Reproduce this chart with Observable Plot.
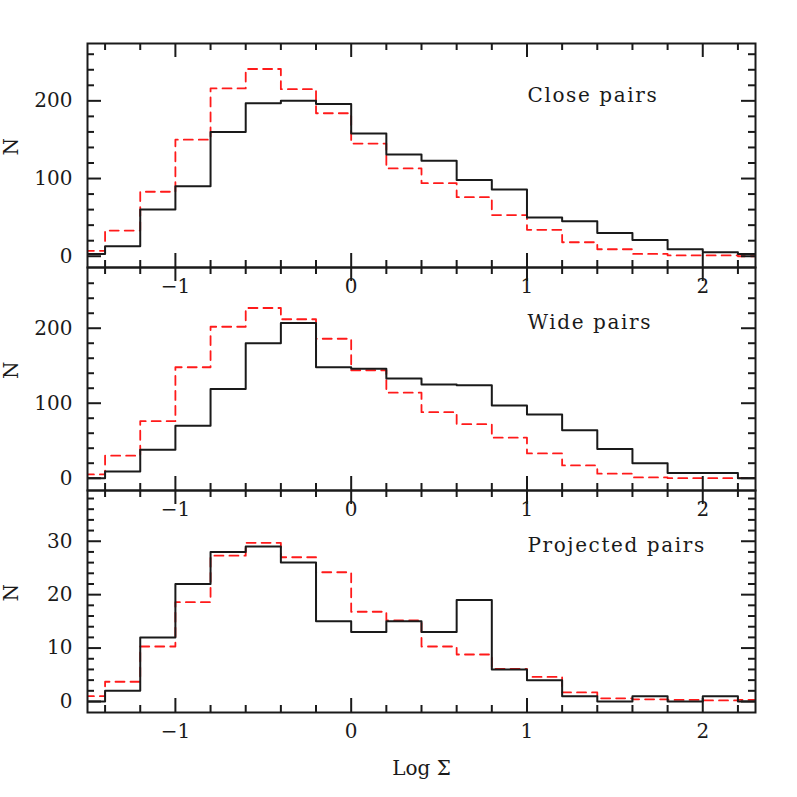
<!DOCTYPE html>
<html><head><meta charset="utf-8">
<script src="https://cdn.jsdelivr.net/npm/d3@7"></script>
<script src="https://cdn.jsdelivr.net/npm/@observablehq/plot@0.6"></script>
<style>
body{margin:0;background:#fff;}
#wrap{position:relative;width:797px;height:797px;background:#fff;overflow:hidden;}
#wrap svg{position:absolute;left:0;}
</style></head><body><div id="wrap"></div>
<script>
// Bin lower edges (bin width 0.2); the last bin ends at 2.4
const binStart = [-1.6,-1.4,-1.2,-1.0,-0.8,-0.6,-0.4,-0.2,0,0.2,0.4,0.6,0.8,1.0,1.2,1.4,1.6,1.8,2.0,2.2];
const binEnd = 2.4;

// Close pairs
const closeObs   = [3,13,60,90,160,197,200,196,158,131,123,98,86,50,45,30,21,9,5,3];
const closeModel = [7,33,83,150,216,241,215,184,145,113,94,76,53,34,18,9,3,1,1,0];
// Wide pairs
const wideObs    = [0,9,38,70,119,180,207,148,146,133,125,124,97,85,64,39,20,7,7,0];
const wideModel  = [5,30,76,148,202,227,212,186,144,114,88,72,54,33,17,6,1,0,0,0];
// Projected pairs
const projObs    = [0,2,12,22,28,29,26,15,13,15,13,19,6,4,1,0,1,0,1,0];
const projModel  = [1,3.7,10.3,18.6,27.3,29.7,27,24.2,16.8,15.2,10.3,8.8,6.1,4.6,1.7,0.6,0.4,0.3,0.2,0.3];

const titles = ["Close pairs","Wide pairs","Projected pairs"];
const xLabel = "Log Σ";
const yLabel = "N";

// Tick values
const xMajor = [-1,0,1,2];
const xMinor = [-1.4,-1.2,-0.8,-0.6,-0.4,-0.2,0.2,0.4,0.6,0.8,1.2,1.4,1.6,1.8,2.2];
const yMajor1 = [0,100,200];
const yMinor1 = [20,40,60,80,120,140,160,180,220,240,260];
const yMajor2 = [0,100,200];
const yMinor2 = [20,40,60,80,120,140,160,180,220,240,260];
const yMajor3 = [0,10,20,30];
const yMinor3 = [2,4,6,8,12,14,16,18,22,24,26,28,32,34,36,38];

const W = 797, ML = 87, MR = 42, PW = W - ML - MR;
const INK = "#1a1a1a";
const fmt = d3.format("d");

function toPts(vals) {
  return binStart.map((x, i) => ({x, y: vals[i]})).concat([{x: binEnd, y: vals[vals.length - 1]}]);
}

function panel(o) {
  const PH = o.plotH;
  const marks = [
    Plot.line(toPts(o.model), {x: "x", y: "y", curve: "step-after", stroke: "#ff1a1a", strokeWidth: 1.8, strokeDasharray: "9,6", clip: true}),
    Plot.line(toPts(o.obs), {x: "x", y: "y", curve: "step-after", stroke: INK, strokeWidth: 2, clip: true}),
    Plot.frame({stroke: INK, strokeWidth: 2}),
    Plot.tickX(xMinor, {insetTop: PH - 7, stroke: INK, strokeWidth: 2}),
    Plot.tickX(xMajor, {insetTop: PH - 14, stroke: INK, strokeWidth: 2}),
    Plot.tickX(xMinor, {insetBottom: PH - 7, stroke: INK, strokeWidth: 2}),
    Plot.tickX(xMajor, {insetBottom: PH - 14, stroke: INK, strokeWidth: 2}),
    Plot.tickY(o.yMinor, {insetRight: PW - 7, stroke: INK, strokeWidth: 2}),
    Plot.tickY(o.yMajor, {insetRight: PW - 14, stroke: INK, strokeWidth: 2}),
    Plot.tickY(o.yMinor, {insetLeft: PW - 7, stroke: INK, strokeWidth: 2}),
    Plot.tickY(o.yMajor, {insetLeft: PW - 14, stroke: INK, strokeWidth: 2}),
    Plot.axisX({ticks: xMajor, tickSize: 0, tickPadding: 11, tickFormat: fmt, label: null, fill: INK}),
    Plot.axisY({ticks: o.yMajor, tickSize: 0, tickPadding: 15, tickFormat: fmt, label: null, fill: INK}),
    Plot.text([o.title], {frameAnchor: "top-right", textAnchor: "start", lineAnchor: "middle", dx: -228, dy: o.titleDy, text: d => d, fill: INK}),
    Plot.text([yLabel], {frameAnchor: "left", rotate: -90, dx: -76, lineAnchor: "middle", text: d => d, fill: INK})
  ];
  if (o.xLabel) marks.push(Plot.text([o.xLabel], {frameAnchor: "bottom", lineAnchor: "middle", dy: 56, text: d => d, fill: INK}));
  const svg = Plot.plot({
    width: W,
    height: o.marginTop + PH + o.marginBottom,
    marginLeft: ML, marginRight: MR,
    marginTop: o.marginTop, marginBottom: o.marginBottom,
    x: {domain: [-1.5, 2.3]},
    y: {domain: o.yDomain},
    style: {background: "transparent", fontFamily: "'DejaVu Serif', serif", fontSize: "20px", color: INK},
    marks
  });
  d3.select(svg).selectAll("text").filter(function() { return this.textContent === o.title; })
    .style("letter-spacing", "1.6px");
  svg.style.top = o.top + "px";
  document.getElementById("wrap").appendChild(svg);
}

panel({obs: closeObs, model: closeModel, yDomain: [-14.5, 273.8], yMajor: yMajor1, yMinor: yMinor1,
  title: titles[0], titleDy: 52, top: 0, marginTop: 43, plotH: 224, marginBottom: 35});
panel({obs: wideObs, model: wideModel, yDomain: [-16.4, 281], yMajor: yMajor2, yMinor: yMinor2,
  title: titles[1], titleDy: 55, top: 262, marginTop: 5, plotH: 223, marginBottom: 35});
panel({obs: projObs, model: projModel, yDomain: [-2.06, 39.5], yMajor: yMajor3, yMinor: yMinor3,
  title: titles[2], titleDy: 55, top: 485, marginTop: 5, plotH: 222, marginBottom: 85, xLabel: xLabel});
</script>
</body></html>
